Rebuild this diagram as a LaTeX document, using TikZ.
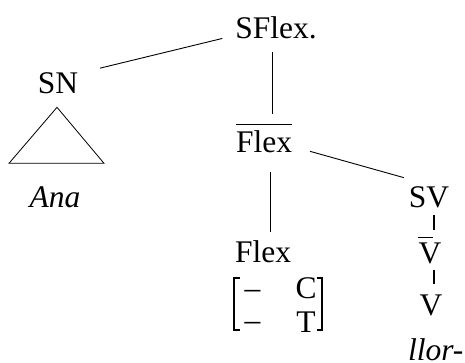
\documentclass[tikz,border=0pt]{standalone}
\usepackage{fontspec}
\setmainfont{Liberation Serif}
\usetikzlibrary{calc}
\begin{document}
\begin{tikzpicture}[x=1pt,y=-1pt,
  lbl/.style={inner sep=0pt,outer sep=0pt,anchor=base,font=\fontsize{31.5}{36}\selectfont},
  branch/.style={line width=0.9pt},
  stem/.style={line width=1.3pt},
  bracket/.style={line width=1.1pt}]
\useasboundingbox (0,0) rectangle (465,362);

% labels of the tree
\node[lbl] (sflex) at (276,38) {SFlex.};
\node[lbl] (sn) at (58,93) {SN};
\node[lbl] (ana) at (55,207) {\itshape Ana};
\node[lbl] (flexbar) at (264,152) {Flex};
\node[lbl] (sv) at (429,207) {SV};
\node[lbl] (vbar) at (430,263) {V};
\node[lbl] (v) at (431,315) {V};
\node[lbl] (flex) at (263,262) {Flex};
\node[lbl,anchor=base west] (llor) at (408,360) {\itshape llor-};

% bars over the intermediate projections
\draw[branch] ([yshift=5.5pt]flexbar.north west) -- ([yshift=5.5pt]flexbar.north east);
\draw[branch] ([yshift=5pt,xshift=-1pt]vbar.north west) -- ([yshift=5pt,xshift=-8pt]vbar.north east);

% branches
\draw[branch] ($(sn.north east)+(22,-4)$) -- ($(sflex.south west)+(-13,0)$);
\draw[branch] ($(sflex.south)+(-4,14)$) -- ($(flexbar.north)+(8,-16.5)$);
\draw[branch] ($(flexbar.south east)+(18,-1)$) -- ($(sv.north west)+(-5,-8.5)$);
\draw[branch] ($(flexbar.south)+(6,20)$) -- ($(flex.north)+(7,-8.5)$);
\draw[stem] ($(sv.south)+(5,8)$) -- ($(vbar.north)+(4,-12)$);
\draw[stem] ($(vbar.south)+(4,7)$) -- ($(v.north)+(3,-10)$);

% triangle over the subject
\draw[line width=0.8pt] ($(sn.south)+(-1,14)$) -- ++(-48,56) -- ++(95,0) -- cycle;

% feature matrix under Flex
\node[lbl] (d1) at (252.5,298.5) {–};
\node[lbl] (d2) at (252.5,330) {–};
\node[lbl] (c) at (306,298) {C};
\node[lbl] (t) at (306,332) {T};
\draw[bracket] (240,278) -- (234,278) -- (234,330) -- (240,330);
\draw[bracket] (317,278) -- (322,278) -- (322,330) -- (317,330);
\end{tikzpicture}
\end{document}
